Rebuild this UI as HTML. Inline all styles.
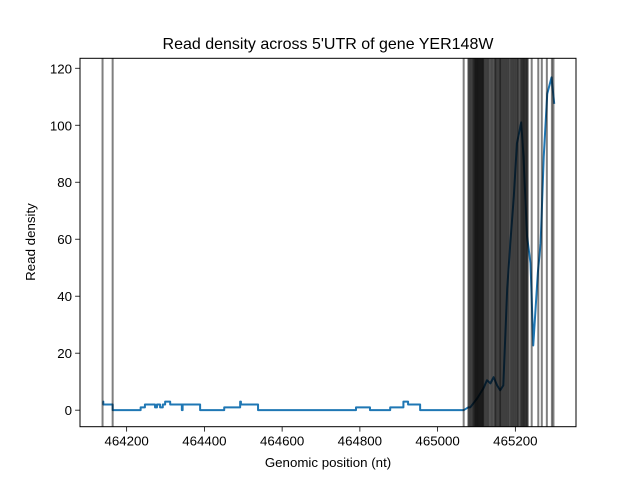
<!DOCTYPE html>
<html><head><meta charset="utf-8"><style>body{margin:0;background:#fff}svg text{font-family:"Liberation Sans","DejaVu Sans",sans-serif}</style></head>
<body>
<svg id="chart" width="640" height="480" xmlns="http://www.w3.org/2000/svg">
<rect width="640" height="480" fill="#fff"/>
<text x="328" y="49" font-size="16" text-anchor="middle">Read density across 5'UTR of gene YER148W</text>
<g id="plot"></g>
<text x="328" y="467" font-size="13.3" text-anchor="middle">Genomic position (nt)</text>
<text transform="translate(35,242) rotate(-90)" font-size="13.3" text-anchor="middle">Read density</text>
</svg>
<script>
const positions = [464138,464140,464164,464236,464247,464273,464278,464286,464293,464299,464312,464342,464344,464389,464451,464492,464494,464538,464790,464826,464878,464912,464924,464955,465067,465079,465084,465101,465118,465127,465136,465144,465153,465161,465169,465179,465187,465196,465204,465215,465221,465230,465239,465246,465252,465258,465265,465273,465282,465293,465300];
const densities = [3,2,0,1,2,1,2,1,2,3,2,0,2,0,1,3,2,0,1,0,1,3,2,0,0,1,1,4,7.7,10.5,9.4,11.6,8.7,7,8.7,42.6,58.6,75,93.6,101,89,61,51.6,22.7,35.6,48.5,58.6,89,111,116.8,107.5];
const stepCount = 25;
const markers = [464138,464164,465067,465079,465081,465084,465086,465089,465091,465093,465095,465096,465098,465099,465101,465102,465104,465105,465107,465108,465110,465111,465113,465114,465116,465117,465119,465121,465124,465126,465129,465131,465134,465137,465140,465143,465146,465148,465150,465152,465155,465157,465160,465161,465163,465166,465168,465171,465173,465176,465178,465181,465183,465186,465189,465191,465194,465196,465199,465201,465204,465206,465208,465211,465214,465216,465218,465220,465222,465224,465226,465228,465230,465232,465242,465259,465268,465281,465294,465298];
const xTicks = [464200,464400,464600,464800,465000,465200];
const yTicks = [0,20,40,60,80,100,120];
const L=80,R=576,T=58.3,B=426.7,X0=464080,X1=465356,Y0=-5.8,Y1=123.5;
const sx=v=>L+(v-X0)/(X1-X0)*(R-L), sy=v=>B-(v-Y0)/(Y1-Y0)*(B-T);
const NS="http://www.w3.org/2000/svg", g=document.getElementById('plot');
function mk(t,a){const e=document.createElementNS(NS,t);for(const k in a)e.setAttribute(k,a[k]);g.appendChild(e);return e;}
let d='';
for(let i=0;i<positions.length;i++){
  const x=sx(positions[i]), y=sy(densities[i]);
  if(i===0) d+='M'+x+','+y;
  else if(i<stepCount){ d+=' H'+x+' V'+y; }
  else d+=' L'+x+','+y;
}
const ln=mk('path',{d:d,fill:'none',stroke:'#1f77b4','stroke-width':2,'stroke-linejoin':'round'});


markers.forEach(m=>{const e=mk('line',{x1:sx(m),x2:sx(m),y1:T,y2:B,stroke:'#000','stroke-opacity':0.5,'stroke-width':2});

});
xTicks.forEach(v=>{const x=sx(v);mk('line',{x1:x,x2:x,y1:B,y2:B+4.9,stroke:'#000','stroke-width':0.8});
const t=mk('text',{x:x,y:B+19,'font-size':13.3,'text-anchor':'middle'});t.textContent=v;

});
yTicks.forEach(v=>{const y=sy(v);mk('line',{x1:L-4.9,x2:L,y1:y,y2:y,stroke:'#000','stroke-width':0.8});
const t=mk('text',{x:L-8,y:y+5,'font-size':13.3,'text-anchor':'end'});t.textContent=v;

});
const fr=mk('rect',{x:L,y:T,width:R-L,height:B-T,fill:'none',stroke:'#000','stroke-width':1});


</script>
</body></html>
